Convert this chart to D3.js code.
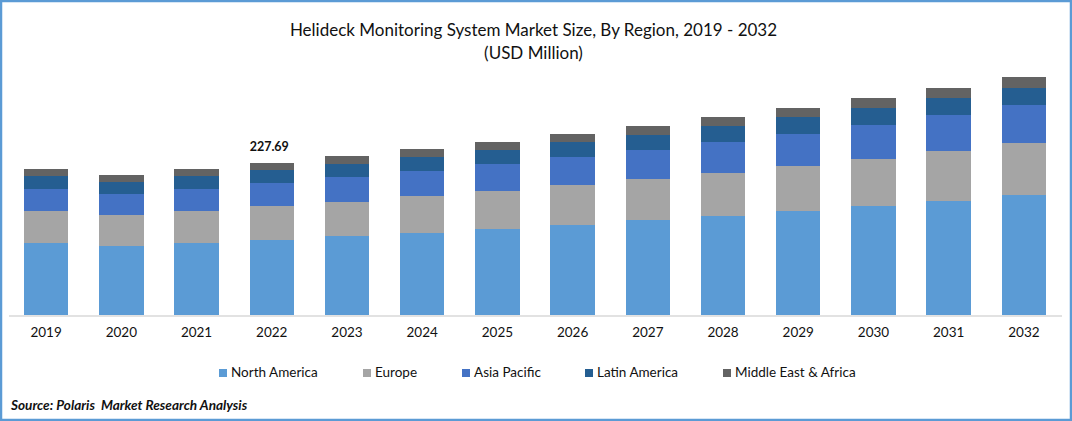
<!DOCTYPE html>
<html lang="en">
<head>
    <meta charset="UTF-8">
    <title>Helideck Monitoring System Market Size</title>
    <script src="https://d3js.org/d3.v7.min.js"></script>
    <style>
        html, body { margin: 0; padding: 0; background: #fff; overflow: hidden; }
        svg { display: block; font-family: Lato, "Open Sans", sans-serif; }
    </style>
</head>
<body>

<svg id="chart" width="1072" height="421"></svg>
<script>

    const years = ["2019", "2020", "2021", "2022", "2023", "2024", "2025", "2026", "2027", "2028", "2029", "2030", "2031", "2032"];
    const regions = ["North America", "Europe", "Asia Pacific", "Latin America", "Middle East & Africa"];

    const northAmerica = [107.9, 103.4, 107.9, 112.3, 118.3, 122.8, 128.8, 134.8, 142.3, 148.3, 155.8, 163.3, 170.8, 179.8];
    const europe = [47.9, 46.4, 47.9, 50.9, 50.9, 55.4, 56.9, 59.9, 61.4, 64.4, 67.4, 70.4, 74.9, 77.9];
    const asiaPacific = [33.0, 31.5, 33.0, 34.5, 37.4, 37.4, 40.4, 41.9, 43.4, 46.4, 47.9, 50.9, 53.9, 56.9];
    const latinAmerica = [19.5, 18.0, 19.5, 19.5, 19.5, 21.0, 21.0, 22.5, 22.5, 24.0, 25.5, 25.5, 25.5, 25.5];
    const middleEast = [10.5, 10.5, 10.5, 10.5, 12.0, 12.0, 12.0, 12.0, 13.5, 13.5, 13.5, 15.0, 15.0, 16.5];

    const labelYear = "2022";
    const labelValue = "227.69";

    const svg = d3.select("#chart");

    // frame around the picture
    svg.append("rect")
        .attr("x", 1).attr("y", 1)
        .attr("width", 1070).attr("height", 419)
        .attr("fill", "#fff")
        .attr("stroke", "#5b9bd5")
        .attr("stroke-width", 2.5);

    // title
    svg.append("text")
        .attr("x", 533.5).attr("y", 36)
        .attr("text-anchor", "middle")
        .style("font-size", "17px")
        .style("fill", "#111")
        .text("Helideck Monitoring System Market Size, By Region, 2019 - 2032");
    svg.append("text")
        .attr("x", 533.5).attr("y", 59)
        .attr("text-anchor", "middle")
        .style("font-size", "17px")
        .style("fill", "#111")
        .text("(USD Million)");

    const rows = years.map((year, i) => ({
        year,
        "North America": northAmerica[i],
        "Europe": europe[i],
        "Asia Pacific": asiaPacific[i],
        "Latin America": latinAmerica[i],
        "Middle East & Africa": middleEast[i]
    }));

    const x = d3.scaleBand()
        .domain(years)
        .range([8.5, 1061.5])
        .paddingInner(0.41)
        .paddingOuter(0.205);

    const y = d3.scaleLinear()
        .domain([0, 360])
        .range([315, 74.7]);

    const color = d3.scaleOrdinal()
        .domain(regions)
        .range(["#5b9bd5", "#a5a5a5", "#4472c4", "#255e91", "#636363"]);

    const stacked = d3.stack().keys(regions)(rows);

    svg.append("g")
        .selectAll("g")
        .data(stacked)
        .enter()
        .append("g")
        .attr("fill", d => color(d.key))
        .selectAll("rect")
        .data(d => d)
        .enter()
        .append("rect")
        .attr("x", d => x(d.data.year))
        .attr("y", d => y(d[1]))
        .attr("width", x.bandwidth())
        .attr("height", d => y(d[0]) - y(d[1]))
        .attr("shape-rendering", "crispEdges");

    // x axis
    const axis = svg.append("g")
        .attr("transform", "translate(0,315.5)")
        .call(d3.axisBottom(x).tickSize(0).tickPadding(12));
    axis.select(".domain")
        .attr("stroke", "#d9d9d9")
        .attr("stroke-width", 1.5);
    axis.selectAll("text")
        .attr("font-family", "Lato, 'Open Sans', sans-serif")
        .style("font-size", "13.5px")
        .style("fill", "#111");

    // value label on the one highlighted bar
    const labelTop = d3.sum(regions, r => rows[years.indexOf(labelYear)][r]);
    svg.append("text")
        .attr("x", x(labelYear) + x.bandwidth() / 2 - 2.5)
        .attr("y", y(labelTop) - 12)
        .attr("text-anchor", "middle")
        .style("font-size", "12.5px")
        .style("font-weight", "700")
        .style("fill", "#111")
        .text(labelValue);

    // legend
    const legendX = d3.scaleOrdinal()
        .domain(regions)
        .range([219, 363, 462, 585, 723]);

    const legend = svg.append("g")
        .selectAll("g")
        .data(regions)
        .enter()
        .append("g")
        .attr("transform", d => `translate(${legendX(d)},369)`);
    legend.append("rect")
        .attr("width", 8).attr("height", 8)
        .attr("fill", d => color(d))
        .attr("shape-rendering", "crispEdges");
    legend.append("text")
        .attr("x", 12).attr("y", 8)
        .style("font-size", "13.5px")
        .style("fill", "#111")
        .text(d => d);

    // source line
    svg.append("text")
        .attr("x", 11).attr("y", 410)
        .attr("xml:space", "preserve")
        .style("font-size", "13.6px")
        .style("font-weight", "700")
        .style("font-style", "italic")
        .style("fill", "#111")
        .text("Source: Polaris  Market Research Analysis");

</script>

</body>
</html>
